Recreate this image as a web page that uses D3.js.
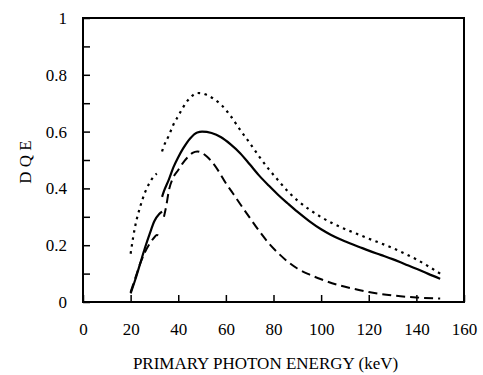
<!DOCTYPE html>
<html>
<head>
<meta charset="utf-8">
<script src="https://cdn.jsdelivr.net/npm/d3@7"></script>
<style>
  body { margin: 0; background: #fff; }
  svg text { font-family: "Liberation Serif", "Times New Roman", serif; fill: #000; }
</style>
</head>
<body>
<svg id="chart" width="483" height="375"></svg>
<script>
// data: energy (keV) / DQE, split at the K-edge
var solidLowE  = [20, 22, 24, 26, 28, 30, 32, 33.2];
var solidLowD  = [0.03, 0.08, 0.135, 0.19, 0.24, 0.285, 0.31, 0.318];
var solidHighE = [33.2, 34, 36, 38, 40, 42, 45, 48, 50, 54, 58, 62, 66, 70, 74, 78, 82, 86, 90, 95, 100, 104, 108, 112, 116, 120, 125, 130, 135, 140, 145, 150];
var solidHighD = [0.37, 0.39, 0.43, 0.475, 0.51, 0.54, 0.576, 0.597, 0.6, 0.595, 0.58, 0.555, 0.524, 0.485, 0.445, 0.41, 0.377, 0.347, 0.318, 0.285, 0.256, 0.237, 0.221, 0.207, 0.194, 0.181, 0.166, 0.151, 0.134, 0.117, 0.099, 0.082];

var dotLowE  = [20, 21, 22, 24, 26, 28, 30, 31];
var dotLowD  = [0.17, 0.225, 0.27, 0.335, 0.385, 0.42, 0.445, 0.452];
var dotHighE = [33.2, 34, 36, 38, 40, 42, 44, 46, 48, 50, 52, 55, 58, 62, 66, 70, 74, 78, 82, 86, 90, 95, 100, 105, 110, 115, 120, 125, 130, 135, 140, 145, 150];
var dotHighD = [0.53, 0.55, 0.585, 0.625, 0.655, 0.685, 0.71, 0.727, 0.736, 0.735, 0.729, 0.715, 0.695, 0.655, 0.606, 0.56, 0.512, 0.468, 0.428, 0.39, 0.358, 0.326, 0.299, 0.276, 0.257, 0.24, 0.223, 0.207, 0.19, 0.171, 0.15, 0.126, 0.1];

var dashLowE  = [20, 22, 24, 26, 28, 30, 31, 32, 33];
var dashLowD  = [0.035, 0.085, 0.135, 0.175, 0.205, 0.228, 0.236, 0.232, 0.224];
var dashHighE = [34, 35, 36, 38, 40, 42, 44, 46, 48, 50, 52, 54, 57, 60, 63, 66, 70, 74, 78, 82, 86, 90, 95, 100, 108, 115, 120, 130, 140, 150];
var dashHighD = [0.3, 0.34, 0.39, 0.44, 0.465, 0.49, 0.51, 0.525, 0.53, 0.525, 0.512, 0.495, 0.46, 0.418, 0.382, 0.345, 0.297, 0.25, 0.207, 0.172, 0.142, 0.118, 0.097, 0.08, 0.058, 0.044, 0.035, 0.023, 0.016, 0.012];

var xTicks = [0, 20, 40, 60, 80, 100, 120, 140, 160];
var yMajor = [0, 0.2, 0.4, 0.6, 0.8, 1];
var yLabels = ["0", "0.2", "0.4", "0.6", "0.8", "1"];
var yMinor = [0.1, 0.3, 0.5, 0.7, 0.9];

var padL = 83, padR = 464, padT = 18, padB = 302;
var svg = d3.select('#chart');

var x = d3.scaleLinear().domain([0, 160]).range([padL, padR]);
var y = d3.scaleLinear().domain([0, 1]).range([padB, padT]);

function zip(es, ds) { return es.map((e, i) => [e, ds[i]]); }

var line = d3.line()
    .x(d => x(d[0]))
    .y(d => y(d[1]))
    .curve(d3.curveMonotoneX);

var series = [
    { segs: [zip(solidLowE, solidLowD), zip(solidHighE, solidHighD)], dash: null, w: 2.2 },
    { segs: [zip(dotLowE, dotLowD), zip(dotHighE, dotHighD)], dash: "2.5,4.5", w: 2.2 },
    { segs: [zip(dashLowE, dashLowD), zip(dashHighE, dashHighD)], dash: "9,5", w: 2 }
];

series.forEach(s => {
    s.segs.forEach(seg => {
        svg.append("path")
            .datum(seg)
            .attr("d", line)
            .attr("fill", "none")
            .attr("stroke", "#000")
            .attr("stroke-width", s.w)
            .attr("stroke-dasharray", s.dash);
    });
});

// axes, ticks pointing inward
svg.append('g')
    .attr("transform", "translate(" + padL + ",0)")
    .call(d3.axisLeft(y).tickValues(yMajor).tickFormat((d, i) => yLabels[i])
        .tickSizeInner(-7).tickSizeOuter(0).tickPadding(16));
svg.append('g')
    .attr("transform", "translate(" + padL + ",0)")
    .call(d3.axisLeft(y).tickValues(yMinor).tickFormat("")
        .tickSizeInner(-7).tickSizeOuter(0));

svg.append('g')
    .attr("transform", "translate(0," + padB + ")")
    .call(d3.axisBottom(x).tickValues(xTicks).tickFormat(d3.format("d"))
        .tickSizeInner(-7).tickSizeOuter(0).tickPadding(21));

svg.selectAll(".domain").remove();
svg.selectAll(".tick line").attr("stroke", "#000").attr("stroke-width", 1.5);
svg.selectAll(".tick text").style("font-size", "17px");

// frame
svg.append("rect")
    .attr("x", padL).attr("y", padT)
    .attr("width", padR - padL).attr("height", padB - padT)
    .attr("fill", "none").attr("stroke", "#000").attr("stroke-width", 2);

svg.append("text")
    .text("PRIMARY PHOTON ENERGY (keV)")
    .attr("x", (padL + padR) / 2 - 8)
    .attr("y", 369)
    .attr("text-anchor", "middle")
    .style("font-size", "17px");

svg.append("text")
    .text("D Q E")
    .attr("transform", "translate(31,162) rotate(-90)")
    .attr("text-anchor", "middle")
    .style("font-size", "17px");
</script>
</body>
</html>
